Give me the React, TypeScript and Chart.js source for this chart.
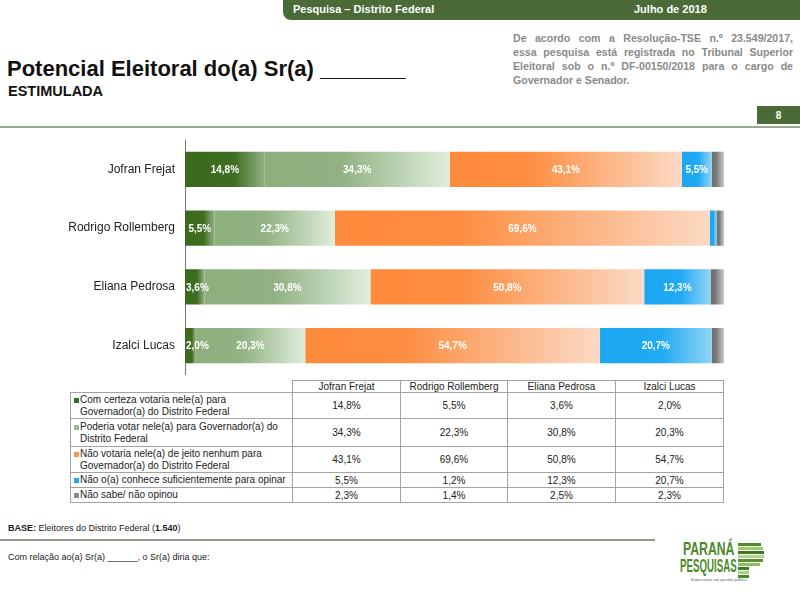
import React, { useEffect, useRef } from "react";
import { Chart, registerables } from "chart.js";

Chart.register(...registerables);

const FONT = "'Liberation Sans', Arial, Helvetica, sans-serif";

const categories = ["Jofran Frejat", "Rodrigo Rollemberg", "Eliana Pedrosa", "Izalci Lucas"];

const seriesLabels = [
  "Com certeza votaria nele(a) para\nGovernador(a) do Distrito Federal",
  "Poderia votar nele(a) para Governador(a) do\nDistrito Federal",
  "Não votaria nele(a) de jeito nenhum para\nGovernador(a) do Distrito Federal",
  "Não o(a) conhece suficientemente para opinar",
  "Não sabe/ não opinou",
];

const comCerteza = [14.8, 5.5, 3.6, 2.0];
const poderia = [34.3, 22.3, 30.8, 20.3];
const naoVotaria = [43.1, 69.6, 50.8, 54.7];
const naoConhece = [5.5, 1.2, 12.3, 20.7];
const naoSabe = [2.3, 1.4, 2.5, 2.3];

const seriesValues = [comCerteza, poderia, naoVotaria, naoConhece, naoSabe];

const markerColors = ["#3b6b1e", "#9dbb8f", "#f79646", "#1ea8f5", "#8a8a8a"];
const gradStops: Array<Array<[number, string]>> = [
  [[0, "#3b6a1c"], [0.62, "#3f6d22"], [1, "#93b184"]],
  [[0, "#8daf7d"], [0.42, "#92b283"], [1, "#e0eedd"]],
  [[0, "#fe8a3b"], [0.33, "#fe8d41"], [1, "#fbdac4"]],
  [[0, "#1aa6f2"], [0.55, "#22aaf3"], [1, "#8fd4f6"]],
  [[0, "#6e6e6e"], [0.35, "#777777"], [1, "#cacaca"]],
];

const fmt = (v: number) => v.toFixed(1).replace(".", ",") + "%";

const GREEN = "#4a6b38";

function makeBg(di: number) {
  return (ctx: any) => {
    const chart = ctx.chart;
    const xs = chart.scales && chart.scales.x;
    if (ctx.type !== "data" || !xs) return markerColors[di];
    const idx = ctx.dataIndex;
    let start = 0;
    for (let k = 0; k < di; k++) start += seriesValues[k][idx];
    const end = start + seriesValues[di][idx];
    const x0 = xs.getPixelForValue(start);
    const x1 = xs.getPixelForValue(end);
    if (!isFinite(x0) || !isFinite(x1) || x1 - x0 < 0.5) return gradStops[di][0][1];
    const g = chart.ctx.createLinearGradient(x0, 0, x1, 0);
    gradStops[di].forEach(([o, c]) => g.addColorStop(o, c));
    return g;
  };
}

const labelPlugin = {
  id: "segLabels",
  afterDatasetsDraw(chart: any) {
    const ctx = chart.ctx;
    ctx.save();
    ctx.font = `bold 10px ${FONT}`;
    ctx.fillStyle = "#ffffff";
    ctx.textAlign = "center";
    ctx.textBaseline = "middle";
    chart.data.datasets.forEach((ds: any, di: number) => {
      if (di === 4) return;
      const meta = chart.getDatasetMeta(di);
      meta.data.forEach((el: any, i: number) => {
        const v = ds.data[i];
        if (v < 1.5) return;
        const { x, base, y } = el.getProps(["x", "base", "y"], true);
        const left = Math.min(x, base);
        const right = Math.max(x, base);
        const txt = fmt(v);
        const w = ctx.measureText(txt).width;
        let cx = (left + right) / 2;
        if (cx - w / 2 < left + 1) cx = left + 1 + w / 2;
        ctx.fillText(txt, cx, y + 1);
      });
    });
    ctx.restore();
  },
};

function BarChart() {
  const ref = useRef<HTMLCanvasElement | null>(null);
  useEffect(() => {
    if (!ref.current) return;
    const chart = new Chart(ref.current, {
      type: "bar",
      data: {
        labels: categories,
        datasets: seriesValues.map((vals, di) => ({
          label: seriesLabels[di],
          data: vals,
          backgroundColor: makeBg(di),
          borderWidth: 0,
          categoryPercentage: 1,
          barPercentage: 0.6,
        })),
      },
      options: {
        indexAxis: "y",
        responsive: false,
        animation: false,
        layout: { padding: 0 },
        plugins: { legend: { display: false }, tooltip: { enabled: false } },
        scales: {
          x: { stacked: true, min: 0, max: 100, display: false },
          y: {
            stacked: true,
            grid: { display: false, drawTicks: false },
            border: { display: true, color: "#777777", width: 1 },
            ticks: { color: "#222222", font: { family: FONT, size: 12 }, padding: 10 },
            afterFit: (s: any) => {
              s.width = 185;
              s.paddingTop = 0;
              s.paddingBottom = 0;
            },
          },
        },
      },
      plugins: [labelPlugin],
    } as any);
    return () => chart.destroy();
  }, []);
  return (
    <canvas
      ref={ref}
      width={724}
      height={235}
      style={{ position: "absolute", left: 0, top: 140, width: 724, height: 235 }}
    />
  );
}

const colEdges = [70, 292, 400, 507, 615, 724];
const rowEdges = [380, 392, 418, 446, 472, 487, 503];
const BORDER = "1px solid #a3a3a3";

function DataTable() {
  const cells: any[] = [];
  for (let c = 1; c < colEdges.length - 1; c++) {
    cells.push(
      <div
        key={`h${c}`}
        style={{
          position: "absolute",
          left: colEdges[c],
          top: rowEdges[0],
          width: colEdges[c + 1] - colEdges[c],
          height: rowEdges[1] - rowEdges[0],
          borderLeft: BORDER,
          borderTop: BORDER,
          borderRight: c === colEdges.length - 2 ? BORDER : undefined,
          boxSizing: "border-box",
          display: "flex",
          alignItems: "center",
          justifyContent: "center",
          fontSize: 10,
          lineHeight: "11px",
          color: "#222",
          whiteSpace: "nowrap",
        }}
      >
        {categories[c - 1]}
      </div>
    );
  }
  for (let r = 0; r < seriesLabels.length; r++) {
    const top = rowEdges[r + 1];
    const h = rowEdges[r + 2] - top;
    cells.push(
      <div
        key={`l${r}`}
        style={{
          position: "absolute",
          left: colEdges[0],
          top,
          width: colEdges[1] - colEdges[0],
          height: h,
          borderLeft: BORDER,
          borderTop: BORDER,
          borderBottom: r === seriesLabels.length - 1 ? BORDER : undefined,
          boxSizing: "border-box",
          display: "flex",
          alignItems: "center",
          fontSize: 10,
          lineHeight: "12px",
          color: "#222",
          paddingLeft: 3,
        }}
      >
        <div style={{ position: "relative", paddingLeft: 6, whiteSpace: "pre" }}>
          <span
            style={{
              position: "absolute",
              left: 0,
              top: 4,
              width: 5,
              height: 5,
              background: markerColors[r],
            }}
          />
          {seriesLabels[r]}
        </div>
      </div>
    );
    for (let c = 1; c < colEdges.length - 1; c++) {
      cells.push(
        <div
          key={`c${r}_${c}`}
          style={{
            position: "absolute",
            left: colEdges[c],
            top,
            width: colEdges[c + 1] - colEdges[c],
            height: h,
            borderLeft: BORDER,
            borderTop: BORDER,
            borderRight: c === colEdges.length - 2 ? BORDER : undefined,
            borderBottom: r === seriesLabels.length - 1 ? BORDER : undefined,
            boxSizing: "border-box",
            display: "flex",
            alignItems: "center",
            justifyContent: "center",
            fontSize: 10,
            color: "#222",
          }}
        >
          {fmt(seriesValues[r][c - 1])}
        </div>
      );
    }
  }
  return <>{cells}</>;
}

const noteLines = [
  "De acordo com a Resolução-TSE n.º 23.549/2017,",
  "essa pesquisa está registrada no Tribunal Superior",
  "Eleitoral sob o n.º DF-00150/2018 para o cargo de",
  "Governador e Senador.",
];

const stripeWidths = [23, 25, 26, 26, 25, 22, 11, 11, 11];
const stripeColors = ["#4f8a2b", "#9ccb6c", "#3f7b22", "#b3d68a", "#5a9332", "#8cbf5a", "#3f7b22", "#a8cf7a", "#4f8a2b"];

function Logo() {
  return (
    <>
      <div
        style={{
          position: "absolute",
          left: 683,
          top: 540,
          fontFamily: FONT,
          fontWeight: "bold",
          fontSize: 18,
          lineHeight: "18px",
          color: "#4c8a2a",
          whiteSpace: "nowrap",
          transform: "scaleX(0.68)",
          transformOrigin: "left top",
        }}
      >
        PARANÁ
      </div>
      <div
        style={{
          position: "absolute",
          left: 680,
          top: 557,
          fontFamily: FONT,
          fontWeight: "bold",
          fontSize: 18,
          lineHeight: "18px",
          color: "#4c8a2a",
          whiteSpace: "nowrap",
          transform: "scaleX(0.54)",
          transformOrigin: "left top",
        }}
      >
        PESQUISAS
      </div>
      {stripeWidths.map((w, i) => (
        <div
          key={i}
          style={{
            position: "absolute",
            left: 738,
            top: 543 + i * 4,
            width: w,
            height: 3,
            background: stripeColors[i],
          }}
        />
      ))}
      <div
        style={{
          position: "absolute",
          left: 691,
          top: 577,
          fontFamily: FONT,
          fontSize: 4,
          lineHeight: "5px",
          color: "#666",
          whiteSpace: "nowrap",
        }}
      >
        Especialista em opinião pública.
      </div>
    </>
  );
}

export default function App() {
  return (
    <div
      style={{
        position: "absolute",
        left: 0,
        top: 0,
        width: 800,
        height: 594,
        overflow: "hidden",
        background: "#ffffff",
        fontFamily: FONT,
      }}
    >
      <div
        style={{
          position: "absolute",
          left: 283,
          top: 0,
          width: 517,
          height: 20,
          background: GREEN,
          borderBottomLeftRadius: 8,
        }}
      />
      <div
        style={{
          position: "absolute",
          left: 293,
          top: 1,
          color: "#fff",
          fontWeight: "bold",
          fontSize: 11,
          lineHeight: "17px",
          whiteSpace: "nowrap",
        }}
      >
        Pesquisa – Distrito Federal
      </div>
      <div
        style={{
          position: "absolute",
          left: 634,
          top: 1,
          color: "#fff",
          fontWeight: "bold",
          fontSize: 11,
          lineHeight: "17px",
          whiteSpace: "nowrap",
        }}
      >
        Julho de 2018
      </div>

      <div style={{ position: "absolute", left: 513, top: 31, width: 280 }}>
        {noteLines.map((l, i) => (
          <div
            key={i}
            style={{
              fontSize: 10.6,
              fontWeight: "bold",
              color: "#8a8a8a",
              lineHeight: "14px",
              height: 14,
              textAlign: i === noteLines.length - 1 ? "left" : "justify",
              textAlignLast: i === noteLines.length - 1 ? "left" : "justify",
              overflow: "hidden",
            } as any}
          >
            {l}
          </div>
        ))}
      </div>

      <div
        style={{
          position: "absolute",
          left: 7,
          top: 58,
          fontSize: 22,
          fontWeight: "bold",
          lineHeight: "22px",
          color: "#111",
          whiteSpace: "nowrap",
        }}
      >
        Potencial Eleitoral do(a) Sr(a) _______
      </div>
      <div
        style={{
          position: "absolute",
          left: 8,
          top: 84,
          fontSize: 14.5,
          fontWeight: "bold",
          lineHeight: "15px",
          color: "#111",
          whiteSpace: "nowrap",
        }}
      >
        ESTIMULADA
      </div>

      <div
        style={{
          position: "absolute",
          left: 757,
          top: 106,
          width: 43,
          height: 18,
          background: GREEN,
          color: "#fff",
          fontWeight: "bold",
          fontSize: 10,
          display: "flex",
          alignItems: "center",
          justifyContent: "center",
        }}
      >
        8
      </div>
      <div style={{ position: "absolute", left: 0, top: 126, width: 800, height: 2, background: "#9aab8c" }} />

      <BarChart />
      <DataTable />

      <div
        style={{
          position: "absolute",
          left: 8,
          top: 523,
          fontSize: 9,
          lineHeight: "10px",
          color: "#222",
          whiteSpace: "nowrap",
        }}
      >
        <b>BASE:</b> Eleitores do Distrito Federal (<b>1.540</b>)
      </div>
      <div style={{ position: "absolute", left: 0, top: 539, width: 655, height: 2, background: "#939c8c" }} />
      <div
        style={{
          position: "absolute",
          left: 8,
          top: 552,
          fontSize: 9,
          lineHeight: "10px",
          color: "#222",
          whiteSpace: "nowrap",
        }}
      >
        Com relação ao(a) Sr(a) ______, o Sr(a) diria que:
      </div>
      <Logo />
    </div>
  );
}
